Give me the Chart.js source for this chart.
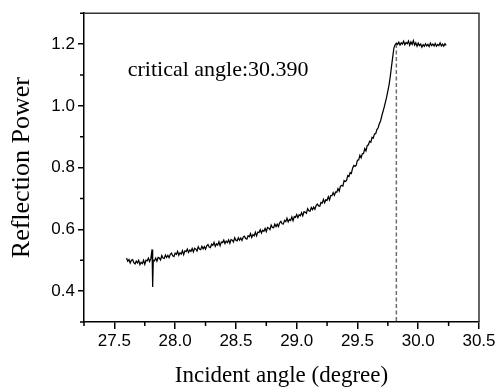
<!DOCTYPE html>
<html>
<head>
<meta charset="utf-8">
<script src="https://cdn.jsdelivr.net/npm/chart.js@4/dist/chart.umd.min.js"></script>
<style>
  body { margin: 0; background: #fff; }
  #chart-box { display: block; }
</style>
</head>
<body>
<canvas id="chart-box" width="498" height="392"></canvas>
<script>
// incident angle (degree) and measured reflection power
const angles = [
  27.60, 27.61, 27.62, 27.63, 27.64, 27.65, 27.66, 27.67, 27.68, 27.69,
  27.70, 27.71, 27.72, 27.73, 27.74, 27.75, 27.76, 27.77, 27.78, 27.79,
  27.80, 27.81, 27.815, 27.82,
  27.83, 27.84, 27.85, 27.86, 27.87, 27.88, 27.89,
  27.90, 27.91, 27.92, 27.93, 27.94, 27.95, 27.96, 27.97, 27.98, 27.99,
  28.00, 28.01, 28.02, 28.03, 28.04, 28.05, 28.06, 28.07, 28.08, 28.09,
  28.10, 28.11, 28.12, 28.13, 28.14, 28.15, 28.16, 28.17, 28.18, 28.19,
  28.20, 28.21, 28.22, 28.23, 28.24, 28.25, 28.26, 28.27, 28.28, 28.29,
  28.30, 28.31, 28.32, 28.33, 28.34, 28.35, 28.36, 28.37, 28.38, 28.39,
  28.40, 28.41, 28.42, 28.43, 28.44, 28.45, 28.46, 28.47, 28.48, 28.49,
  28.50, 28.51, 28.52, 28.53, 28.54, 28.55, 28.56, 28.57, 28.58, 28.59,
  28.60, 28.61, 28.62, 28.63, 28.64, 28.65, 28.66, 28.67, 28.68, 28.69,
  28.70, 28.71, 28.72, 28.73, 28.74, 28.75, 28.76, 28.77, 28.78, 28.79,
  28.80, 28.81, 28.82, 28.83, 28.84, 28.85, 28.86, 28.87, 28.88, 28.89,
  28.90, 28.91, 28.92, 28.93, 28.94, 28.95, 28.96, 28.97, 28.98, 28.99,
  29.00, 29.01, 29.02, 29.03, 29.04, 29.05, 29.06, 29.07, 29.08, 29.09,
  29.10, 29.11, 29.12, 29.13, 29.14, 29.15, 29.16, 29.17, 29.18, 29.19,
  29.20, 29.21, 29.22, 29.23, 29.24, 29.25, 29.26, 29.27, 29.28, 29.29,
  29.30, 29.31, 29.32, 29.33, 29.34, 29.35, 29.36, 29.37, 29.38, 29.39,
  29.40, 29.41, 29.42, 29.43, 29.44, 29.45, 29.46, 29.47, 29.48, 29.49,
  29.50, 29.51, 29.52, 29.53, 29.54, 29.55, 29.56, 29.57, 29.58, 29.59,
  29.60, 29.61, 29.62, 29.63, 29.64, 29.65, 29.66,
  29.67, 29.68, 29.69, 29.70, 29.72, 29.74, 29.76, 29.77, 29.78, 29.79,
  29.80, 29.81, 29.82,
  29.83, 29.84, 29.85, 29.86, 29.87, 29.88, 29.89, 29.90, 29.91, 29.92,
  29.93, 29.94, 29.95, 29.96, 29.97, 29.98, 29.99, 30.00, 30.01, 30.02,
  30.03, 30.04, 30.05, 30.06, 30.07, 30.08, 30.09, 30.10, 30.11, 30.12,
  30.13, 30.14, 30.15, 30.16, 30.17, 30.18, 30.19, 30.20, 30.21, 30.22,
  30.23
];
const power = [
  0.507, 0.497, 0.502, 0.491, 0.500, 0.502, 0.492, 0.488, 0.497, 0.491,
  0.500, 0.486, 0.493, 0.489, 0.500, 0.487, 0.500, 0.498, 0.507, 0.496,
  0.505, 0.535, 0.413, 0.500,
  0.498, 0.507, 0.497, 0.509, 0.507, 0.501, 0.515,
  0.507, 0.506, 0.517, 0.509, 0.516, 0.508, 0.519, 0.523, 0.514, 0.512,
  0.523, 0.519, 0.529, 0.516, 0.524, 0.520, 0.531, 0.518, 0.530, 0.528,
  0.536, 0.525, 0.533, 0.529, 0.538, 0.527, 0.539, 0.536, 0.530, 0.544,
  0.536, 0.534, 0.545, 0.537, 0.544, 0.536, 0.547, 0.551, 0.543, 0.541,
  0.552, 0.548, 0.558, 0.545, 0.553, 0.549, 0.560, 0.547, 0.559, 0.557,
  0.565, 0.554, 0.562, 0.557, 0.566, 0.555, 0.567, 0.565, 0.559, 0.573,
  0.565, 0.563, 0.573, 0.565, 0.572, 0.564, 0.575, 0.578, 0.570, 0.568,
  0.579, 0.576, 0.586, 0.574, 0.583, 0.579, 0.591, 0.579, 0.591, 0.590,
  0.599, 0.588, 0.597, 0.594, 0.603, 0.593, 0.606, 0.604, 0.599, 0.614,
  0.606, 0.605, 0.617, 0.609, 0.617, 0.609, 0.621, 0.626, 0.618, 0.617,
  0.629, 0.625, 0.636, 0.624, 0.632, 0.629, 0.640, 0.628, 0.641, 0.639,
  0.648, 0.638, 0.647, 0.644, 0.654, 0.644, 0.657, 0.656, 0.652, 0.667,
  0.660, 0.659, 0.671, 0.664, 0.672, 0.665, 0.677, 0.682, 0.676, 0.675,
  0.687, 0.685, 0.697, 0.686, 0.696, 0.694, 0.706, 0.695, 0.709, 0.709,
  0.719, 0.710, 0.721, 0.720, 0.732, 0.724, 0.740, 0.742, 0.740, 0.758,
  0.755, 0.758, 0.774, 0.771, 0.784, 0.781, 0.798, 0.807, 0.804, 0.808,
  0.824, 0.825, 0.840, 0.832, 0.845, 0.846, 0.862, 0.854, 0.871, 0.874,
  0.885, 0.882, 0.898, 0.895, 0.909, 0.910, 0.923,
  0.929, 0.942, 0.951, 0.967, 0.996, 1.028, 1.068, 1.095, 1.127, 1.158,
  1.188, 1.198, 1.203,
  1.199, 1.206, 1.197, 1.204, 1.200, 1.209, 1.198, 1.205, 1.201, 1.210,
  1.196, 1.207, 1.199, 1.211, 1.197, 1.204, 1.193, 1.203, 1.195, 1.200,
  1.190, 1.198, 1.193, 1.201, 1.194, 1.199, 1.192, 1.203, 1.195, 1.200,
  1.194, 1.202, 1.193, 1.199, 1.195, 1.204, 1.194, 1.200, 1.193, 1.201,
  1.196
];

const criticalAngle = 29.82;
const criticalLine = [1.2, 0.3];
const noteText = "critical angle:30.390";

const xTicks = [27.5, 28.0, 28.5, 29.0, 29.5, 30.0, 30.5];
const xMinorTicks = [27.25, 27.75, 28.25, 28.75, 29.25, 29.75, 30.25];
const yTicks = [0.4, 0.6, 0.8, 1.0, 1.2];
const yMinorTicks = [0.3, 0.5, 0.7, 0.9, 1.1, 1.3];

const serif = "'Liberation Serif', 'Times New Roman', serif";
const sans = "'Liberation Sans', Arial, sans-serif";

// frame, minor ticks and the note
const extrasPlugin = {
  id: "extras",
  afterDraw(chart) {
    const ctx = chart.ctx;
    const area = chart.chartArea;
    const xs = chart.scales.x;
    const ys = chart.scales.y;
    ctx.save();
    ctx.strokeStyle = "#333";
    ctx.lineWidth = 1.5;
    ctx.beginPath();
    ctx.moveTo(area.left, area.top);
    ctx.lineTo(area.right, area.top);
    ctx.lineTo(area.right, area.bottom);
    ctx.stroke();

    ctx.strokeStyle = "#000";
    ctx.lineWidth = 1.5;
    ctx.beginPath();
    xMinorTicks.forEach(v => {
      const px = xs.getPixelForValue(v);
      ctx.moveTo(px, area.bottom);
      ctx.lineTo(px, area.bottom + 4);
    });
    yMinorTicks.forEach(v => {
      const py = ys.getPixelForValue(v);
      ctx.moveTo(area.left, py);
      ctx.lineTo(area.left - 4, py);
    });
    ctx.stroke();

    ctx.fillStyle = "#000";
    ctx.font = "22px " + serif;
    ctx.textBaseline = "alphabetic";
    ctx.textAlign = "left";
    ctx.fillText(noteText, xs.getPixelForValue(27.61), ys.getPixelForValue(1.097));
    ctx.restore();
  },
};

function loadChart() {
  const ctx = document.getElementById("chart-box").getContext("2d");
  new Chart(ctx, {
    type: "line",
    data: {
      datasets: [
        {
          data: angles.map((a, i) => ({ x: a, y: power[i] })),
          borderColor: "#000",
          borderWidth: 1.25,
          pointRadius: 0,
          tension: 0,
        },
        {
          data: criticalLine.map(v => ({ x: criticalAngle, y: v })),
          borderColor: "#6e6e6e",
          borderWidth: 1.5,
          borderDash: [4, 2.5],
          pointRadius: 0,
        },
      ],
    },
    options: {
      responsive: false,
      animation: false,
      layout: {
        padding: { top: 11, right: 19, left: 0, bottom: 0 },
      },
      plugins: {
        legend: { display: false },
        tooltip: { enabled: false },
      },
      scales: {
        x: {
          type: "linear",
          min: 27.25,
          max: 30.5,
          afterBuildTicks: scale => {
            scale.ticks = xTicks.map(v => ({ value: v }));
          },
          afterFit: scale => {
            scale.height = 70;
          },
          grid: {
            drawOnChartArea: false,
            drawTicks: true,
            tickLength: 7,
            tickColor: "#000",
            lineWidth: 1.5,
          },
          border: { color: "#000", width: 1.5 },
          ticks: {
            color: "#000",
            padding: 2,
            maxRotation: 0,
            font: { family: sans, size: 17 },
            callback: v => v.toFixed(1),
          },
          title: {
            display: true,
            text: "Incident angle (degree)",
            color: "#000",
            padding: { top: 0, bottom: 2 },
            font: { family: serif, size: 23 },
          },
        },
        y: {
          min: 0.3,
          max: 1.3,
          afterBuildTicks: scale => {
            scale.ticks = yTicks.map(v => ({ value: v }));
          },
          afterFit: scale => {
            scale.width = 84;
          },
          grid: {
            drawOnChartArea: false,
            drawTicks: true,
            tickLength: 6,
            tickColor: "#000",
            lineWidth: 1.5,
          },
          border: { color: "#000", width: 1.5 },
          ticks: {
            color: "#000",
            padding: 3,
            font: { family: sans, size: 17 },
            callback: v => v.toFixed(1),
          },
          title: {
            display: true,
            text: "Reflection Power",
            color: "#000",
            padding: { top: 7, bottom: 0 },
            font: { family: serif, size: 26 },
          },
        },
      },
    },
    plugins: [extrasPlugin],
  });
}

loadChart();
</script>
</body>
</html>
